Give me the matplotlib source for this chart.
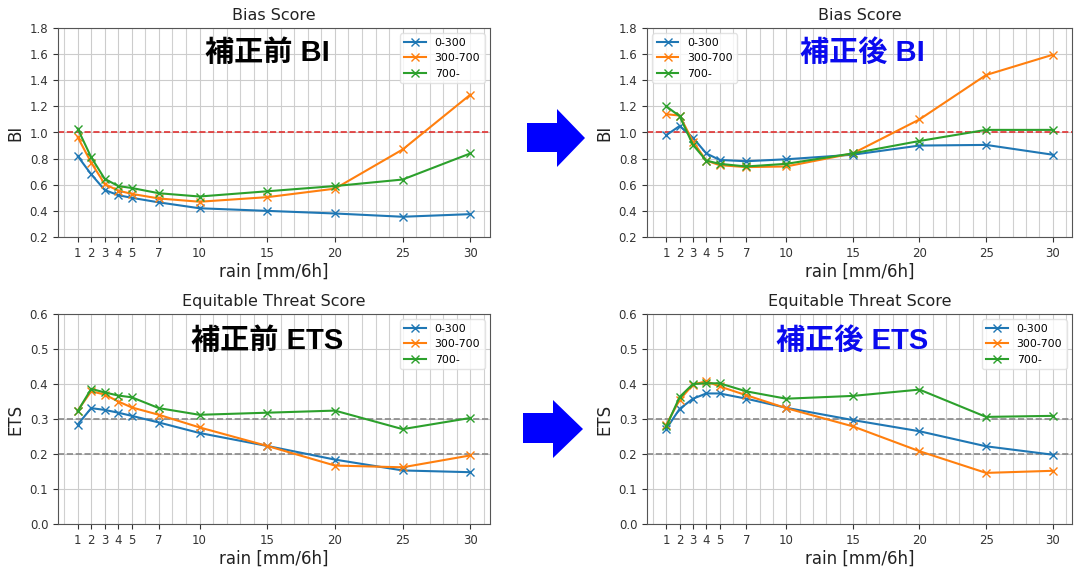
import matplotlib
matplotlib.use("Agg")
import matplotlib.pyplot as plt
from matplotlib.ticker import MultipleLocator
from matplotlib.patches import Polygon

plt.rcParams['font.family'] = ['DejaVu Sans', 'Noto Sans CJK JP']

rain = [1, 2, 3, 4, 5, 7, 10, 15, 20, 25, 30]
groups = ["0-300", "300-700", "700-"]
colors = ["#1f77b4", "#ff7f0e", "#2ca02c"]

bi_before = {
    "0-300":   [0.82, 0.68, 0.56, 0.52, 0.50, 0.465, 0.42, 0.40, 0.38, 0.355, 0.375],
    "300-700": [0.965, 0.77, 0.605, 0.555, 0.53, 0.495, 0.47, 0.505, 0.57, 0.87, 1.29],
    "700-":    [1.03, 0.81, 0.645, 0.59, 0.575, 0.535, 0.51, 0.55, 0.59, 0.64, 0.84],
}
bi_after = {
    "0-300":   [0.98, 1.05, 0.96, 0.84, 0.79, 0.78, 0.795, 0.83, 0.90, 0.905, 0.83],
    "300-700": [1.14, 1.13, 0.93, 0.785, 0.75, 0.735, 0.74, 0.84, 1.10, 1.44, 1.595],
    "700-":    [1.20, 1.125, 0.905, 0.785, 0.76, 0.74, 0.76, 0.84, 0.935, 1.02, 1.02],
}
ets_before = {
    "0-300":   [0.284, 0.331, 0.326, 0.318, 0.309, 0.29, 0.26, 0.223, 0.184, 0.153, 0.148],
    "300-700": [0.324, 0.379, 0.37, 0.35, 0.333, 0.312, 0.276, 0.223, 0.167, 0.162, 0.196],
    "700-":    [0.322, 0.386, 0.376, 0.367, 0.362, 0.331, 0.312, 0.318, 0.324, 0.271, 0.303],
}
ets_after = {
    "0-300":   [0.272, 0.329, 0.358, 0.373, 0.373, 0.358, 0.332, 0.297, 0.265, 0.222, 0.198],
    "300-700": [0.284, 0.355, 0.398, 0.408, 0.393, 0.368, 0.331, 0.279, 0.208, 0.146, 0.152],
    "700-":    [0.279, 0.363, 0.40, 0.402, 0.402, 0.379, 0.358, 0.366, 0.384, 0.306, 0.309],
}

W, H = 1079, 567
fig = plt.figure(figsize=(W / 100, H / 100), dpi=100)


def px_axes(left, top, right, bottom):
    return fig.add_axes([left / W, 1 - bottom / H, (right - left) / W, (bottom - top) / H])


def panel(ax, data, title, ylabel, ylim, yticks, refs, refcolor, label, labelcolor, legloc, lpos):
    for g, c in zip(groups, colors):
        ax.plot(rain, data[g], color=c, marker='x', markersize=6, linewidth=1.5, label=g, zorder=3)
    for r in refs:
        ax.axhline(r, color=refcolor, linestyle='--', linewidth=1.2, zorder=2)
    ax.set_ylim(*ylim)
    ax.set_yticks(yticks)
    ax.set_xticks(rain)
    ax.xaxis.set_minor_locator(MultipleLocator(1))
    ax.set_axisbelow(True)
    ax.grid(True, which='major', color='#cccccc', linewidth=0.8)
    ax.grid(True, which='minor', axis='x', color='#d0d0d0', linewidth=0.8)
    ax.tick_params(axis='x', which='minor', length=0)
    ax.tick_params(labelsize=8.5, colors='#333333')
    for s in ax.spines.values():
        s.set_color('#555555')
    ax.set_title(title, fontsize=11.5, color='#222222')
    ax.set_xlabel("rain [mm/6h]", fontsize=12, labelpad=2, color='#222222')
    ax.set_ylabel(ylabel, fontsize=12, color='#222222')
    leg = ax.legend(loc=legloc, fontsize=7.8, framealpha=0.8)
    leg.get_frame().set_edgecolor('#dddddd')
    ax.text(lpos[0], lpos[1], label, transform=ax.transAxes, ha='center', va='center',
            fontsize=21, fontweight='bold', color=labelcolor,
            family=['Liberation Sans', 'Noto Sans CJK JP'], zorder=4)


ax1 = px_axes(58, 28, 490, 237)
ax2 = px_axes(647, 28, 1072, 237)
ax3 = px_axes(58, 314, 490, 524)
ax4 = px_axes(647, 314, 1072, 524)

bi_ticks = [0.2, 0.4, 0.6, 0.8, 1.0, 1.2, 1.4, 1.6, 1.8]
ets_ticks = [0.0, 0.1, 0.2, 0.3, 0.4, 0.5, 0.6]

panel(ax1, bi_before, "Bias Score", "BI", (0.2, 1.8), bi_ticks, [1.0], '#e03030',
      "補正前 BI", 'black', 'upper right', (0.484, 0.88))
panel(ax2, bi_after, "Bias Score", "BI", (0.2, 1.8), bi_ticks, [1.0], '#e03030',
      "補正後 BI", '#0a0aee', 'upper left', (0.506, 0.88))
panel(ax3, ets_before, "Equitable Threat Score", "ETS", (0.0, 0.6), ets_ticks, [0.2, 0.3], '#888888',
      "補正前 ETS", 'black', 'upper right', (0.484, 0.87))
panel(ax4, ets_after, "Equitable Threat Score", "ETS", (0.0, 0.6), ets_ticks, [0.2, 0.3], '#888888',
      "補正後 ETS", '#0a0aee', 'upper right', (0.482, 0.87))


def arrow(x0, x1, x2, yt, ys0, ys1, yb):
    ym = (yt + yb) / 2
    pts = [(x0, ys0), (x1, ys0), (x1, yt), (x2, ym), (x1, yb), (x1, ys1), (x0, ys1)]
    pts = [(x / W, 1 - y / H) for x, y in pts]
    fig.patches.append(Polygon(pts, closed=True, transform=fig.transFigure,
                               facecolor='#0000ff', edgecolor='none'))


arrow(527, 557, 585, 109, 123, 152, 167)
arrow(523, 553, 583, 400, 413, 443, 458)

fig.savefig("out.png", dpi=100)
